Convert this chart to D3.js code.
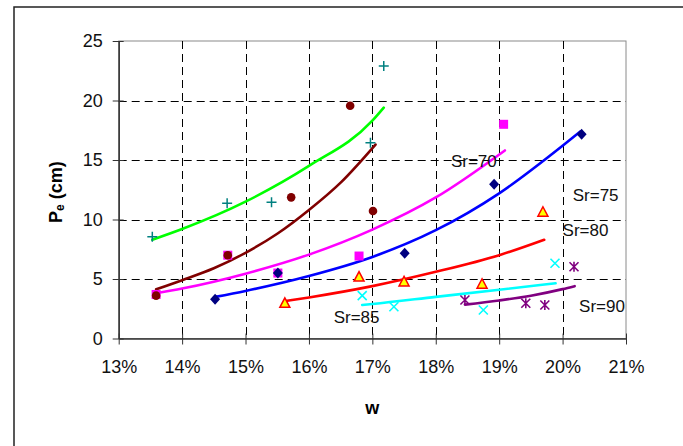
<!DOCTYPE html>
<html>
<head>
<meta charset="utf-8">
<script src="https://cdn.jsdelivr.net/npm/d3@7/dist/d3.min.js"></script>
<style>
  html, body { margin: 0; padding: 0; background: #fff; }
  svg { display: block; font-family: "Liberation Sans", Arial, sans-serif; }
</style>
</head>
<body>
<svg id="chart" width="683" height="446"></svg>
<script>
// ---------- data ----------
const xTicks = [13, 14, 15, 16, 17, 18, 19, 20, 21];   // w (%)
const yTicks = [0, 5, 10, 15, 20, 25];                 // Pe (cm)

// measured points [w %, Pe cm]
const ptsPlus     = [[13.53, 8.55], [14.71, 11.36], [15.41, 11.44], [16.97, 16.45], [17.18, 22.9]];
const ptsSquare   = [[13.59, 3.7], [14.72, 7.0], [15.51, 5.5], [16.79, 6.93], [19.07, 18.0]];
const ptsCircle   = [[13.59, 3.6], [14.72, 7.0], [15.72, 11.86], [16.65, 19.56], [17.01, 10.71]];
const ptsDiamond  = [[14.52, 3.3], [15.51, 5.5], [17.51, 7.16], [18.92, 12.96], [20.3, 17.16]];
const ptsTriangle = [[15.62, 3.0], [16.79, 5.2], [17.5, 4.8], [18.73, 4.6], [19.69, 10.65]];
const ptsCross    = [[16.84, 3.6], [17.34, 2.67], [18.75, 2.39], [19.88, 6.32]];
const ptsStar     = [[18.46, 3.24], [19.42, 2.96], [19.72, 2.82], [20.18, 6.03]];

// fitted trend curves [w %, Pe cm]
const lineGreen   = [[13.53, 8.3], [14.0, 9.2], [15.0, 11.5], [16.0, 14.5], [17.0, 18.3], [17.18, 19.4]];
const lineMaroon  = [[13.59, 4.13], [14.0, 4.9], [14.5, 5.9], [15.0, 7.2], [15.5, 8.8], [16.0, 10.8], [16.5, 13.1], [17.05, 16.3]];
const lineMagenta = [[13.59, 3.8], [14.0, 4.2], [15.0, 5.45], [16.0, 7.05], [17.0, 9.15], [18.0, 11.85], [19.09, 15.8]];
const lineBlue    = [[14.52, 3.5], [15.0, 4.0], [16.0, 5.25], [17.0, 6.85], [18.0, 9.1], [19.0, 12.2], [20.0, 16.2], [20.28, 17.4]];
const lineRed     = [[15.63, 3.15], [16.0, 3.45], [17.0, 4.4], [18.0, 5.6], [19.0, 7.0], [19.71, 8.3]];
const lineCyan    = [[16.84, 2.82], [17.0, 2.9], [18.0, 3.5], [19.0, 4.1], [19.89, 4.64]];
const linePurple  = [[18.46, 2.85], [19.0, 3.2], [19.5, 3.6], [20.0, 4.15], [20.19, 4.4]];

// curve labels [text, w %, Pe cm, anchor]
const labelText = ["Sr=70", "Sr=75", "Sr=80", "Sr=85", "Sr=90"];
const labelW    = [18.6, 20.16, 20.0, 16.39, 20.26];
const labelPe   = [14.4, 11.55, 8.6, 1.3, 2.23];
const labelAnchor = ["middle", "start", "start", "start", "start"];

// ---------- layout ----------
const svg = d3.select("#chart");
const L = 118.7, R = 626, T = 41, B = 338.5;
const x = d3.scaleLinear().domain([13, 21]).range([L, R]);
const y = d3.scaleLinear().domain([0, 25]).range([B, T]);

// outer chart frame
svg.append("rect").attr("x", 14).attr("y", 7).attr("width", 700).attr("height", 460)
  .attr("fill", "#fff").attr("stroke", "#222").attr("stroke-width", 1.5);

// plot area border (top & right)
svg.append("rect").attr("x", L).attr("y", T).attr("width", R - L).attr("height", B - T)
  .attr("fill", "#fff").attr("stroke", "#8a8a8a").attr("stroke-width", 1);

// gridlines
const grid = svg.append("g").attr("stroke", "#000").attr("stroke-width", 1).attr("stroke-dasharray", "8,5");
grid.selectAll("line.h").data(yTicks.filter(d => d > 0 && d < 25)).join("line")
  .attr("x1", L).attr("x2", R).attr("y1", d => Math.round(y(d)) + 0.5).attr("y2", d => Math.round(y(d)) + 0.5);
grid.selectAll("line.v").data(xTicks.filter(d => d > 13 && d < 21)).join("line")
  .attr("y1", T).attr("y2", B).attr("x1", d => Math.round(x(d)) + 0.5).attr("x2", d => Math.round(x(d)) + 0.5);

// axes
const xAxis = d3.axisBottom(x).tickValues(xTicks).tickFormat(d => d + "%").tickSizeInner(6).tickSizeOuter(0).tickPadding(16);
const gx = svg.append("g").attr("transform", `translate(0,${B})`).call(xAxis);
gx.select(".domain").attr("stroke", "#333").attr("stroke-width", 1.5);
gx.selectAll(".tick line").attr("stroke", "#333").attr("y1", -5).attr("y2", 6);
gx.selectAll("text").attr("font-size", 18).attr("fill", "#111").attr("font-family", "Liberation Sans, Arial, sans-serif");

const yAxis = d3.axisLeft(y).tickValues(yTicks).tickSizeInner(6).tickSizeOuter(0).tickPadding(10);
const gy = svg.append("g").attr("transform", `translate(${L},0)`).call(yAxis);
gy.select(".domain").attr("stroke", "#333").attr("stroke-width", 1.5);
gy.selectAll(".tick line").attr("stroke", "#333").attr("x1", 5).attr("x2", -6);
gy.selectAll("text").attr("font-size", 18).attr("fill", "#111").attr("font-family", "Liberation Sans, Arial, sans-serif");

// axis titles
svg.append("text").attr("x", x(17)).attr("y", 414).attr("text-anchor", "middle")
  .attr("font-size", 18).attr("font-weight", "bold").text("w");
const yt = svg.append("text").attr("transform", `translate(62,${y(12.3)}) rotate(-90)`)
  .attr("text-anchor", "middle").attr("font-size", 18).attr("font-weight", "bold");
yt.append("tspan").text("P");
yt.append("tspan").attr("font-size", 12).attr("dy", 2).text("e");
yt.append("tspan").attr("dy", -2).text(" (cm)");

// trend lines
const lineGen = d3.line().x(d => x(d[0])).y(d => y(d[1])).curve(d3.curveMonotoneX);
const lines = [
  [lineGreen, "#00FF00"], [lineMaroon, "#800000"], [lineMagenta, "#FF00FF"],
  [lineBlue, "#0000FF"], [lineRed, "#FF0000"], [lineCyan, "#00FFFF"], [linePurple, "#800080"]
];
svg.append("g").selectAll("path").data(lines).join("path")
  .attr("d", d => lineGen(d[0])).attr("fill", "none").attr("stroke", d => d[1])
  .attr("stroke-width", 2.6).attr("stroke-linecap", "round").attr("stroke-linejoin", "round");

// markers
const mk = svg.append("g");
// magenta squares (drawn first, beneath)
mk.selectAll("rect.sq").data(ptsSquare).join("rect")
  .attr("x", d => x(d[0]) - 4.5).attr("y", d => y(d[1]) - 4.5).attr("width", 9).attr("height", 9)
  .attr("fill", "#FF00FF");
// teal plus
mk.selectAll("path.plus").data(ptsPlus).join("path")
  .attr("transform", d => `translate(${x(d[0])},${y(d[1])})`)
  .attr("d", "M-5,0H5M0,-5V5").attr("stroke", "#008080").attr("stroke-width", 1.5).attr("fill", "none");
// maroon circles
mk.selectAll("circle.c").data(ptsCircle).join("circle")
  .attr("cx", d => x(d[0])).attr("cy", d => y(d[1])).attr("r", 4.3).attr("fill", "#800000");
// navy diamonds
mk.selectAll("path.dia").data(ptsDiamond).join("path")
  .attr("transform", d => `translate(${x(d[0])},${y(d[1])})`)
  .attr("d", "M0,-5.5L5,0L0,5.5L-5,0Z").attr("fill", "#000080");
// yellow triangles with red border
mk.selectAll("path.tri").data(ptsTriangle).join("path")
  .attr("transform", d => `translate(${x(d[0])},${y(d[1])})`)
  .attr("d", "M0,-5L5,4.5L-5,4.5Z").attr("fill", "#FFFF00").attr("stroke", "#FF0000").attr("stroke-width", 1.5)
  .attr("stroke-linejoin", "miter");
// cyan crosses
mk.selectAll("path.x").data(ptsCross).join("path")
  .attr("transform", d => `translate(${x(d[0])},${y(d[1])})`)
  .attr("d", "M-4.5,-4.5L4.5,4.5M-4.5,4.5L4.5,-4.5").attr("stroke", "#00FFFF").attr("stroke-width", 1.6).attr("fill", "none");
// purple asterisks
mk.selectAll("path.st").data(ptsStar).join("path")
  .attr("transform", d => `translate(${x(d[0])},${y(d[1])})`)
  .attr("d", "M-4.5,-4.5L4.5,4.5M-4.5,4.5L4.5,-4.5M0,-5V5").attr("stroke", "#800080").attr("stroke-width", 1.6).attr("fill", "none");

// curve labels
svg.append("g").selectAll("text").data(labelText).join("text")
  .attr("x", (d, i) => x(labelW[i])).attr("y", (d, i) => y(labelPe[i]))
  .attr("text-anchor", (d, i) => labelAnchor[i])
  .attr("font-size", 17).attr("fill", "#111").text(d => d);
</script>
</body>
</html>
